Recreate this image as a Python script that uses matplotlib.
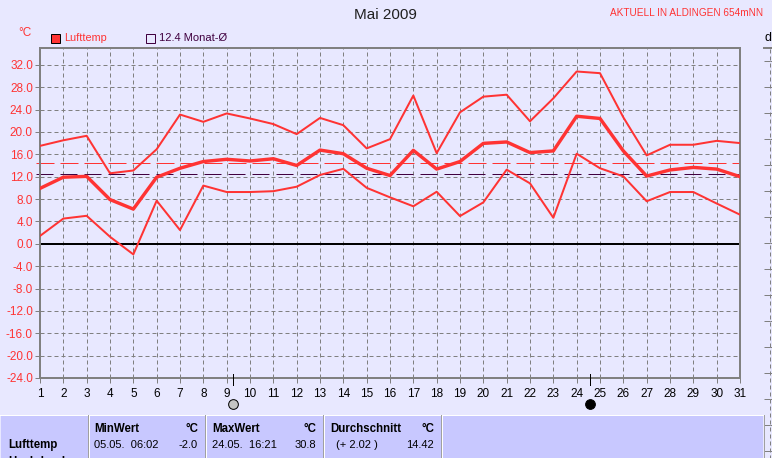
import matplotlib
matplotlib.use('Agg')
from matplotlib import pyplot as plt
from matplotlib.patches import Rectangle
import numpy as np

days = np.arange(1, 32)
temp_max = [17.5, 18.5, 19.3, 12.6, 13.1, 16.9, 23.1, 21.8, 23.3, 22.4, 21.4, 19.6, 22.5, 21.2, 17.05, 18.7,
            26.5, 16.2, 23.5, 26.3, 26.65, 21.9, 26.0, 30.8, 30.5, 22.6, 15.8, 17.7, 17.7, 18.4, 18.0]
temp_mean = [9.9, 11.9, 12.05, 7.9, 6.2, 11.9, 13.5, 14.7, 15.1, 14.8, 15.2, 14.0, 16.75, 16.1, 13.5, 12.2,
             16.7, 13.35, 14.7, 17.95, 18.2, 16.3, 16.6, 22.8, 22.4, 16.6, 12.1, 13.2, 13.65, 13.35, 12.0]
temp_min = [1.4, 4.5, 5.0, 1.25, -1.9, 7.7, 2.45, 10.4, 9.25, 9.25, 9.4, 10.2, 12.3, 13.4, 10.0, 8.3,
            6.7, 9.3, 4.95, 7.4, 13.25, 10.8, 4.65, 16.1, 13.5, 12.05, 7.6, 9.25, 9.25, 7.2, 5.2]
avg_temp = 14.4
avg_month = 12.4
y_ticks = np.arange(-24, 33, 4)
full_moon = 9.27
new_moon = 24.57

BG = '#E8E8FF'
PANEL = '#C8C8FF'
RED = '#FF3333'
GREY = '#808080'
PURPLE = '#400040'
W, H = 772, 458
PX = 0.72  # one pixel in points at dpi 100

plt.rcParams['font.family'] = ['Liberation Sans', 'DejaVu Sans']

fig = plt.figure(figsize=(W / 100, H / 100), dpi=100, facecolor=BG)


def box(x0, y0, x1, y1):
    # pixel box, y from the top
    return [x0 / W, 1 - y1 / H, (x1 - x0) / W, (y1 - y0) / H]


ax = fig.add_axes(box(40, 48, 740, 378), facecolor=BG)
ax.set_xlim(1, 31)
ax.set_ylim(-24, 35)
ax.set_xticks(days)
ax.set_yticks(y_ticks)
ax.set_yticklabels(['%.1f' % v for v in y_ticks], color=RED, fontsize=8.5)
ax.tick_params(axis='x', length=3.6, width=PX, color=GREY, labelsize=8.5, pad=3.5)
ax.tick_params(axis='y', length=3.6, width=PX, color=GREY, pad=1.5)
ax.grid(True, color=GREY, linestyle=(0, (4, 3)), linewidth=PX)
ax.set_axisbelow(True)
for s in ax.spines.values():
    s.set_color(GREY)
    s.set_linewidth(2 * PX)

ax.axhline(0, color='black', linewidth=2 * PX, zorder=2)
ax.axhline(avg_temp, xmin=-4 / 700, color=RED, linewidth=PX, dashes=(18, 6), clip_on=False, zorder=2)
ax.axhline(avg_month, xmin=-4 / 700, color=PURPLE, linewidth=PX, dashes=(17, 7), clip_on=False, zorder=2)
ax.plot(days, temp_max, color=RED, linewidth=2 * PX, zorder=3)
ax.plot(days, temp_min, color=RED, linewidth=2 * PX, zorder=3)
ax.plot(days, temp_mean, color=RED, linewidth=3.4 * PX, zorder=3)

# moon phases under the axis
for d, fc in [(full_moon, '#C4C4C4'), (new_moon, 'black')]:
    ax.plot([d, d], [-23.3, -25.3], color='black', linewidth=PX, clip_on=False, zorder=5)
    ax.plot([d], [-28.7], 'o', ms=7, mfc=fc, mec='black', mew=PX, clip_on=False, zorder=5)

# second chart, cut off at the right edge
ax2 = fig.add_axes(box(770, 48, 800, 478), facecolor=BG)
ax2.set_xlim(0, 1)
ax2.set_ylim(478, 48)
ax2.set_xticks([0])
ax2.set_xticklabels([])
ax2.set_yticks(np.arange(61, 470, 26))
ax2.set_yticklabels([])
ax2.tick_params(axis='y', length=4, width=PX, color=GREY)
ax2.tick_params(axis='x', length=0)
ax2.grid(True, color=GREY, linestyle=(0, (4, 3)), linewidth=PX)
for k in ['left', 'right', 'bottom']:
    ax2.spines[k].set_visible(False)
ax2.spines['top'].set_color(GREY)
ax2.spines['top'].set_linewidth(2 * PX)
ax2.plot([-6 / 30, 0], [48, 48], color=GREY, linewidth=2 * PX, clip_on=False)

fig.text(385 / W, 1 - 15 / H, 'Mai 2009', ha='center', va='center', fontsize=11, color='#202020')
fig.text(687 / W, 1 - 13 / H, 'AKTUELL IN ALDINGEN 654mNN', ha='center', va='center', fontsize=7.2, color=RED)
fig.text(25 / W, 1 - 33 / H, '°C', ha='center', va='center', fontsize=8.5, color=RED)
fig.text(768 / W, 1 - 38 / H, 'd', ha='center', va='center', fontsize=9, color='black')

# legend
fig.add_artist(Rectangle((50.5 / W, 1 - 42.5 / H), 9 / W, 9 / H, transform=fig.transFigure, fc=RED, ec='black', lw=PX))
fig.text(64 / W, 1 - 38 / H, 'Lufttemp', va='center', fontsize=7.8, color=RED)
fig.add_artist(Rectangle((145.5 / W, 1 - 42.5 / H), 9 / W, 9 / H, transform=fig.transFigure, fc=BG, ec=PURPLE, lw=PX))
fig.text(159 / W, 1 - 38 / H, '12.4 Monat-Ø', va='center', fontsize=8, color=PURPLE)

# table panel at the bottom
fig.add_artist(Rectangle((1 / W, 0), 762 / W, 1 - 415 / H, transform=fig.transFigure, fc=PANEL, ec='none'))
fig.add_artist(plt.Line2D([0, 763 / W], [1 - 414.5 / H] * 2, color='white', lw=PX))
fig.add_artist(plt.Line2D([763.5 / W] * 2, [0, 1 - 414.5 / H], color='#A0A0A0', lw=PX))
for x in [88, 205, 323, 441]:
    fig.add_artist(plt.Line2D([(x - 0.5) / W] * 2, [0, 1 - 415 / H], color='#A0A0A0', lw=PX))
    fig.add_artist(plt.Line2D([(x + 0.5) / W] * 2, [0, 1 - 415 / H], color='white', lw=PX))


def label(x, y, s, ha='left', bold=False):
    fig.text(x / W, 1 - y / H, s, ha=ha, va='center', fontsize=8.3 if bold else 8, color='black',
             fontweight='bold' if bold else 'normal')


label(8, 445, 'Lufttemp', bold=True)
label(8, 462, 'Hochdruck', bold=True)
label(94, 429, 'MinWert', bold=True)
label(198, 429, '°C', ha='right', bold=True)
label(94, 445, '05.05.  06:02')
label(198, 445, '-2.0', ha='right')
label(212, 429, 'MaxWert', bold=True)
label(316, 429, '°C', ha='right', bold=True)
label(212, 445, '24.05.  16:21')
label(316, 445, '30.8', ha='right')
label(330, 429, 'Durchschnitt', bold=True)
label(434, 429, '°C', ha='right', bold=True)
label(336, 445, '(+ 2.02 )')
label(434, 445, '14.42', ha='right')

fig.savefig('out.png', dpi=100, facecolor=BG)
plt.close()
